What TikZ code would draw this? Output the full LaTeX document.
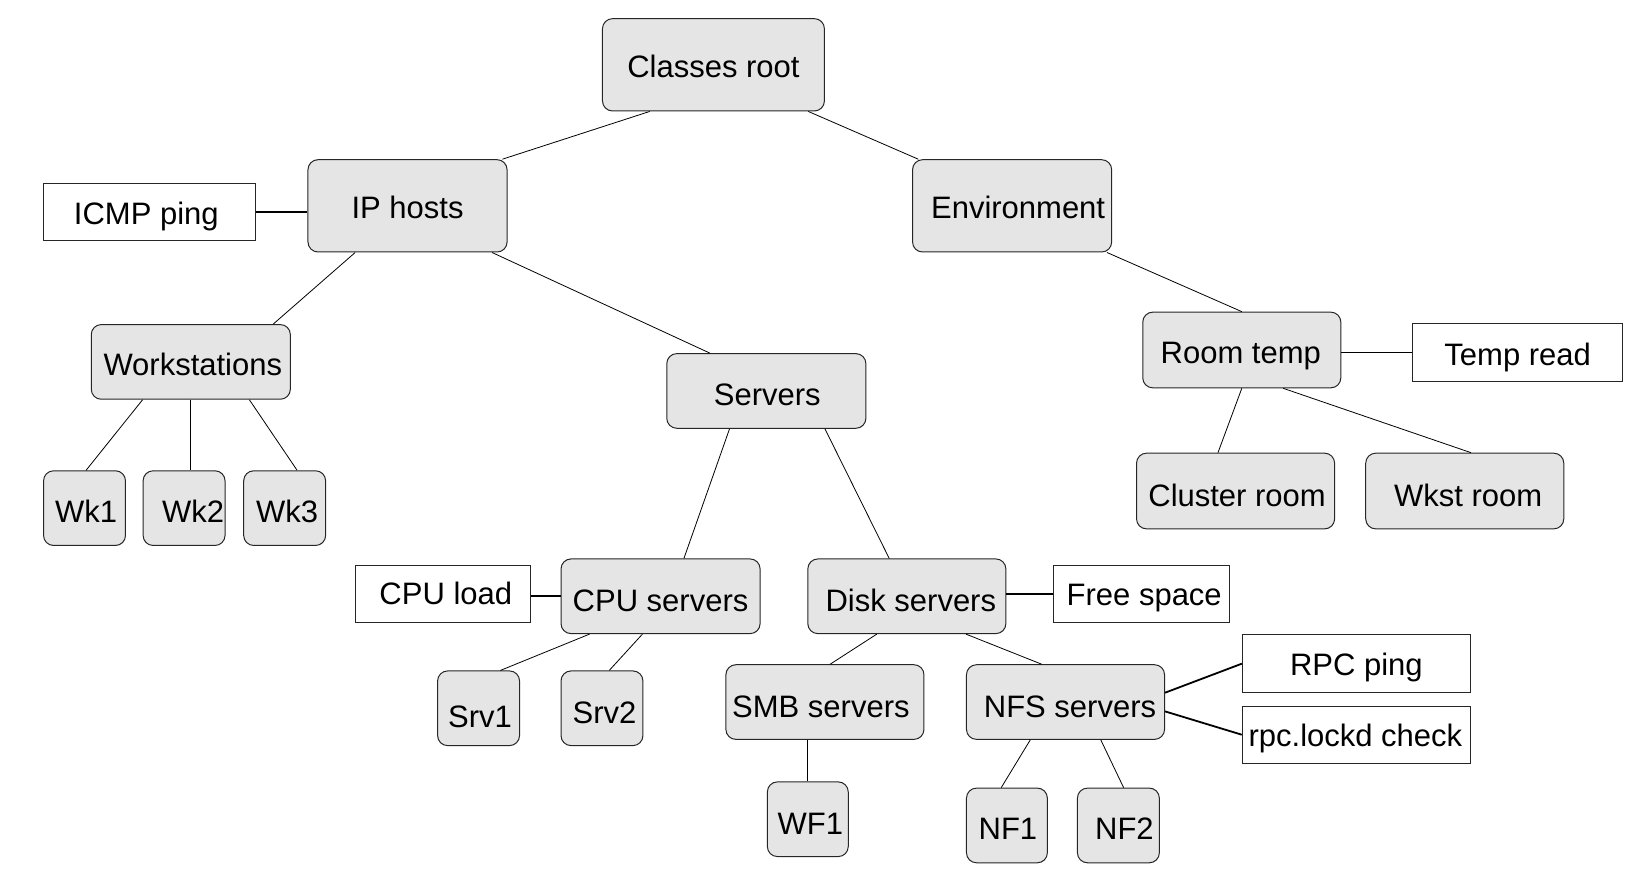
\documentclass[tikz,border=0pt]{standalone}
\usepackage{fontspec}
\setmainfont{Liberation Sans}
\usetikzlibrary{calc}
\newcommand\tx[3]{\hspace*{#1pt}\raisebox{-#2pt}{#3}\hspace*{-#1pt}}
\tikzset{
  sz/.style 2 args={minimum width=#1*1.037pt, minimum height=#2*1.037pt},
  gbox/.style={draw=black!85, line width=1pt, fill=black!10, rounded corners=10pt,
    inner sep=0pt, text height=22pt, text depth=0pt, font=\fontsize{31}{36}\selectfont},
  wbox/.style={draw=black!85, line width=1pt, fill=white,
    inner sep=0pt, text height=22pt, text depth=0pt, font=\fontsize{31}{36}\selectfont},
  edge/.style={draw=black, line width=0.8pt},
  attr/.style={draw=black, line width=1.8pt},
}
\begin{document}
\begin{tikzpicture}[x=1.037pt, y=-1.037pt]
\useasboundingbox (0,0) rectangle (1568,846);
% nodes
\node[gbox, sz={214}{89}] (root) at (688,62.5) {\tx{0}{1.5}{Classes root}};
\node[gbox, sz={192}{89}] (ip) at (393,198.5) {\tx{0}{1.5}{IP hosts}};
\node[wbox, sz={204}{55}] (icmp) at (144,204.5) {\tx{-3}{1}{ICMP ping}};
\node[gbox, sz={192}{89}] (env) at (976,198.5) {\tx{6}{1.5}{Environment}};
\node[gbox, sz={192}{72}] (ws) at (184,349) {\tx{2}{3}{Workstations}};
\node[gbox, sz={192}{72}] (srv) at (739,377) {\tx{1}{3.5}{Servers}};
\node[gbox, sz={191}{73}] (room) at (1197.5,337.5) {\tx{-1}{3}{Room temp}};
\node[wbox, sz={203}{56}] (tread) at (1463.5,340) {\tx{0}{2}{Temp read}};
\node[gbox, sz={79}{72}] (wk1) at (81.5,490) {\tx{1.5}{3.5}{Wk1}};
\node[gbox, sz={79}{72}] (wk2) at (177.5,490) {\tx{9}{3.5}{Wk2}};
\node[gbox, sz={79}{72}] (wk3) at (274.5,490) {\tx{2.5}{3.5}{Wk3}};
\node[gbox, sz={191}{73}] (cluster) at (1191.5,473.5) {\tx{1.5}{4}{Cluster room}};
\node[gbox, sz={191}{73}] (wkst) at (1412.5,473.5) {\tx{3.5}{4}{Wkst room}};
\node[wbox, sz={169}{55}] (cpuload) at (427.5,572.5) {\tx{2.5}{0}{CPU load}};
\node[gbox, sz={192}{72}] (cpu) at (637,575) {\tx{0}{4}{CPU servers}};
\node[gbox, sz={191}{72}] (disk) at (874.5,575) {\tx{4}{4}{Disk servers}};
\node[wbox, sz={170}{55}] (free) at (1101,572.5) {\tx{2.5}{0.5}{Free space}};
\node[gbox, sz={79}{72}] (srv1) at (461.5,683) {\tx{1.5}{8}{Srv1}};
\node[gbox, sz={79}{72}] (srv2) at (580.5,683) {\tx{2.5}{4}{Srv2}};
\node[gbox, sz={191}{72}] (smb) at (795.5,677) {\tx{-4}{4}{SMB servers}};
\node[gbox, sz={191}{72}] (nfs) at (1027.5,677) {\tx{4.5}{4}{NFS servers}};
\node[wbox, sz={220}{56}] (rpc) at (1308,640) {\tx{0}{1}{RPC ping}};
\node[wbox, sz={220}{55}] (lockd) at (1308,708.5) {\tx{-1}{1}{rpc.lockd check}};
\node[gbox, sz={78}{72}] (wf1) at (779,790) {\tx{2.5}{4}{WF1}};
\node[gbox, sz={78}{72}] (nf1) at (971,796) {\tx{1}{3.5}{NF1}};
\node[gbox, sz={79}{72}] (nf2) at (1078.5,796) {\tx{6}{3.5}{NF2}};
% tree edges
\draw[edge] ($(root.south west)+(46,0)$) -- ($(ip.north east)+(-5,0)$);
\draw[edge] ($(root.south east)+(-16,0)$) -- ($(env.north west)+(6,0)$);
\draw[edge] ($(ip.south west)+(46,0)$) -- ($(ws.north east)+(-17,0)$);
\draw[edge] ($(ip.south east)+(-15,0)$) -- ($(srv.north west)+(42,0)$);
\draw[edge] ($(ws.south west)+(50,0)$) -- ($(wk1.north)+(1.5,0)$);
\draw[edge] (ws.south) -- (ws.south |- wk2.north);
\draw[edge] ($(ws.south east)+(-40,0)$) -- ($(wk3.north west)+(52,0)$);
\draw[edge] ($(srv.south west)+(61,0)$) -- ($(cpu.north west)+(119,0)$);
\draw[edge] ($(srv.south east)+(-40,0)$) -- ($(disk.north west)+(79,0)$);
\draw[edge] ($(env.south east)+(-5,0)$) -- (room.north);
\draw[edge] (room.south) -- ($(cluster.north west)+(79,0)$);
\draw[edge] ($(room.south)+(40,0)$) -- ($(wkst.north)+(6,0)$);
\draw[edge] ($(cpu.south west)+(28,0)$) -- ($(srv1.north west)+(61,0)$);
\draw[edge] ($(cpu.south west)+(79,0)$) -- ($(srv2.north west)+(47,0)$);
\draw[edge] ($(disk.south west)+(67,0)$) -- ($(smb.north west)+(101,0)$);
\draw[edge] ($(disk.south east)+(-39,0)$) -- ($(nfs.north west)+(73,0)$);
\draw[edge] (wf1.north) -- (wf1.north |- smb.south);
\draw[edge] ($(nfs.south west)+(62,0)$) -- ($(nf1.north west)+(34,0)$);
\draw[edge] ($(nfs.south west)+(130,0)$) -- ($(nf2.north west)+(45,0)$);
% attribute connectors
\draw[attr] (icmp.east) -- (icmp.east -| ip.west);
\draw[attr] (tread.west) -- (tread.west -| room.east);
\draw[attr] (cpu.west) -- (cpu.west -| cpuload.east);
\draw[attr] (free.west) -- (free.west -| disk.east);
\draw[attr] ($(nfs.east)+(0,-9)$) -- (rpc.west);
\draw[attr] ($(nfs.east)+(0,9)$) -- (lockd.west);
\end{tikzpicture}
\end{document}
